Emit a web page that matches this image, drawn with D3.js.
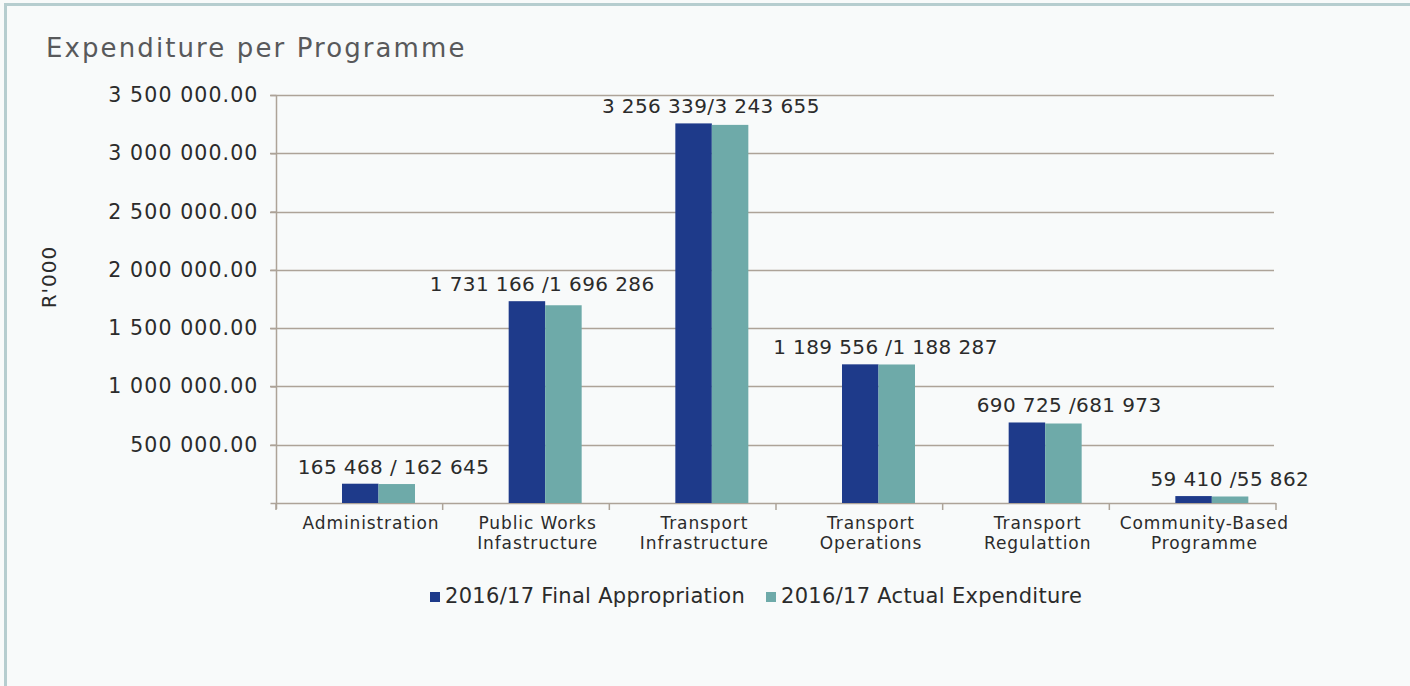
<!DOCTYPE html>
<html><head><meta charset="utf-8">
<script src="https://cdn.jsdelivr.net/npm/d3@7"></script>
<style>
html,body{margin:0;padding:0;background:#f8fafa;}
svg{display:block;}
text{font-family:"DejaVu Sans",sans-serif;fill:#2b2b2b;}
</style></head><body>
<svg id="c" width="1410" height="686"></svg>
<script>
const categories = [["Administration"],["Public Works","Infastructure"],["Transport","Infrastructure"],["Transport","Operations"],["Transport","Regulattion"],["Community-Based","Programme"]];
const seriesNames = ["2016/17 Final Appropriation","2016/17 Actual Expenditure"];
const finalAppropriation = [165468,1731166,3256339,1189556,690725,59410];
const actualExpenditure = [162645,1696286,3243655,1188287,681973,55862];
const labelSeparators = [" / "," /","/"," /"," /"," /"];
const yTicks = [500000,1000000,1500000,2000000,2500000,3000000,3500000];
const colors = ["#1e3a8a","#6eaaa9"];
const labelShift = [15,-3,-1,7,24,18];

const svg = d3.select("#c");
// frame
svg.append("rect").attr("x",0).attr("y",0).attr("width",1410).attr("height",686).attr("fill","#f8fafa");
svg.append("line").attr("x1",5.5).attr("x2",5.5).attr("y1",3).attr("y2",686).attr("stroke","#b6cdcf").attr("stroke-width",3);
svg.append("line").attr("x1",4).attr("x2",1410).attr("y1",4.5).attr("y2",4.5).attr("stroke","#b6cdcf").attr("stroke-width",3);

svg.append("text").attr("x",46).attr("y",57).text("Expenditure per Programme")
  .style("font-size","26px").style("fill","#58595b").style("letter-spacing","2.1px");

const x0 = d3.scaleBand().domain(d3.range(categories.length)).range([276,1276]);
const x1 = d3.scaleBand().domain([0,1]).range([66,139]);
const y = d3.scaleLinear().domain([0,3500000]).range([503,95]);
const gridColor = "#ada398";

// gridlines
svg.append("g").selectAll("line").data(yTicks).join("line")
  .attr("x1",270).attr("x2",1274).attr("y1",d=>Math.round(y(d))+0.5).attr("y2",d=>Math.round(y(d))+0.5)
  .attr("stroke",gridColor).attr("stroke-width",1.5);

// y axis
const fmt = v => d3.format(",.2f")(v).replace(/,/g," ");
const yAxis = svg.append("g").attr("transform","translate(276.5,0)")
  .call(d3.axisLeft(y).tickValues([0].concat(yTicks)).tickSize(6).tickPadding(12).tickFormat(d=>d===0?"":fmt(d)));
yAxis.select(".domain").attr("stroke",gridColor).attr("stroke-width",1.5).attr("d","M0,95V509");
yAxis.selectAll(".tick line").attr("stroke",gridColor).attr("stroke-width",1.5);
yAxis.selectAll(".tick text").style("font-size","20.5px").style("font-family","'DejaVu Sans',sans-serif").style("fill","#2b2b2b").style("letter-spacing","1.1px");

// x axis
const xAxis = svg.append("g").attr("transform","translate(0,503.5)")
  .call(d3.axisBottom(x0).tickSize(0).tickFormat(""));
xAxis.select(".domain").attr("stroke",gridColor).attr("stroke-width",1.5).attr("d","M276,0H1276");
svg.append("g").selectAll("line").data(d3.range(categories.length+1)).join("line")
  .attr("x1",i=>276+i*x0.step()).attr("x2",i=>276+i*x0.step()).attr("y1",503).attr("y2",510)
  .attr("stroke",gridColor).attr("stroke-width",1.5);

// bars
const rows = categories.map((c,i)=>({i,vals:[finalAppropriation[i],actualExpenditure[i]]}));
const g = svg.append("g").selectAll("g").data(rows).join("g").attr("transform",d=>`translate(${x0(d.i)},0)`);
g.selectAll("rect").data(d=>d.vals.map((v,k)=>({v,k}))).join("rect")
  .attr("x",d=>x1(d.k)).attr("width",x1.bandwidth())
  .attr("y",d=>y(d.v)).attr("height",d=>y(0)-y(d.v))
  .attr("fill",d=>colors[d.k]);

// value labels
const nf = v => d3.format(",")(v).replace(/,/g," ");
g.append("text")
  .attr("x",d=>x1(0)+x1.step()+labelShift[d.i])
  .attr("y",d=>y(d.vals[0])-10)
  .attr("text-anchor","middle")
  .style("font-size","20px").style("letter-spacing","0.4px")
  .text(d=>nf(d.vals[0])+labelSeparators[d.i]+nf(d.vals[1]));

// category labels (one text element per line)
g.each(function(d){
  d3.select(this).selectAll("text.cat").data(categories[d.i]).join("text").attr("class","cat")
    .attr("text-anchor","middle").attr("x",95).attr("y",(t,k)=>529+k*20)
    .style("font-size","17px").style("letter-spacing","0.9px").text(t=>t);
});

// y axis title
svg.append("text").attr("transform","translate(56,277) rotate(-90)").attr("text-anchor","middle")
  .style("font-size","20px").style("letter-spacing","1px").text("R'000");

// legend
const leg = svg.append("g").selectAll("g").data(seriesNames).join("g")
  .attr("transform",(d,k)=>`translate(${k===0?430:766},0)`);
leg.append("rect").attr("x",0).attr("y",592).attr("width",10).attr("height",10).attr("fill",(d,k)=>colors[k]);
leg.append("text").attr("x",15).attr("y",603).style("font-size","21px").style("letter-spacing","0.3px").text(d=>d);
</script>
</body></html>
